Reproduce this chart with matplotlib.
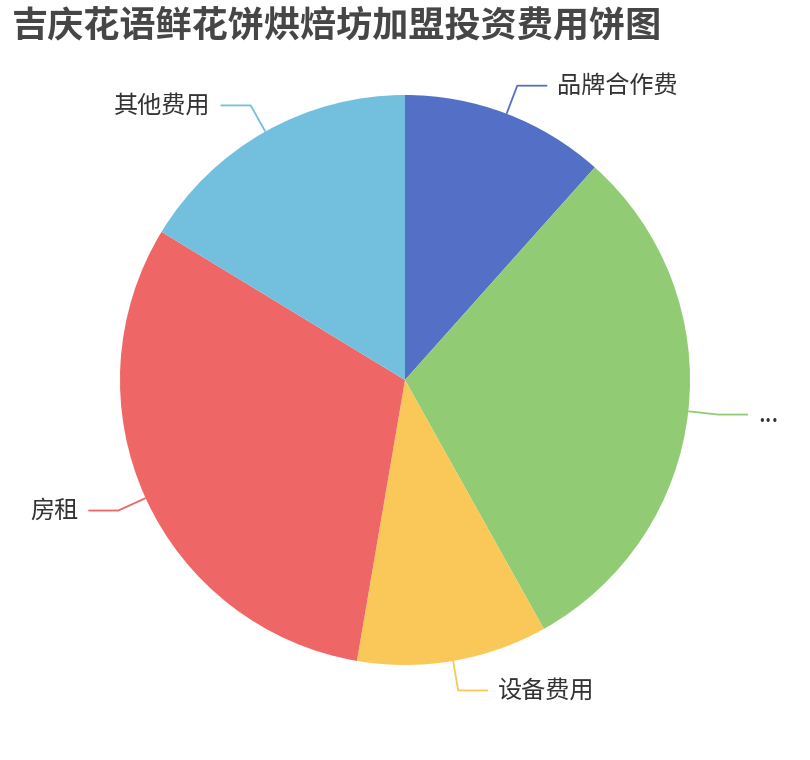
import numpy as np
import matplotlib
matplotlib.use("Agg")
import matplotlib.pyplot as plt

plt.rcParams['font.family'] = ['Noto Sans CJK SC', 'DejaVu Sans']

# data (percent of whole)
names = ["品牌合作费", "...", "设备费用", "房租", "其他费用"]
values = [11.6, 30.3, 10.8, 31.0, 16.3]
colors = ["#5470c6", "#91cc75", "#fac858", "#ee6666", "#73c0de"]

W, H = 810, 760
cx, cy, R = 405, 380, 285

fig = plt.figure(figsize=(W / 100, H / 100), dpi=100)
ax = fig.add_axes([0, 0, 1, 1])

ax.pie(values, colors=colors, startangle=90, counterclock=False,
       center=(cx, H - cy), radius=R,
       wedgeprops=dict(linewidth=0))

# label lines: radial 30px then horizontal 30px
frac = np.array(values) / sum(values)
mids = (np.cumsum(frac) - frac / 2) * 2 * np.pi  # clockwise from top
for name, m, col in zip(names, mids, colors):
    dx, dy = np.sin(m), np.cos(m)
    x0, y0 = cx + R * dx, (H - cy) + R * dy
    x1, y1 = cx + (R + 30) * dx, (H - cy) + (R + 30) * dy
    side = 1 if dx >= 0 else -1
    x2 = x1 + 30 * side
    ax.plot([x0, x1, x2], [y0, y1, y1], color=col, lw=1.3, solid_capstyle='butt')
    ax.text(x2 + 10 * side, y1, name, fontsize=17.4, color='#333333',
            ha='left' if side > 0 else 'right', va='center')

fig.text(12 / W, 1 - 26 / H, "吉庆花语鲜花饼烘焙坊加盟投资费用饼图", fontsize=26,
         fontweight='bold', color='#464646', ha='left', va='center')

ax.set_xlim(0, W)
ax.set_ylim(0, H)
ax.set_aspect('equal')
ax.axis('off')

fig.savefig("out.png", dpi=100)
